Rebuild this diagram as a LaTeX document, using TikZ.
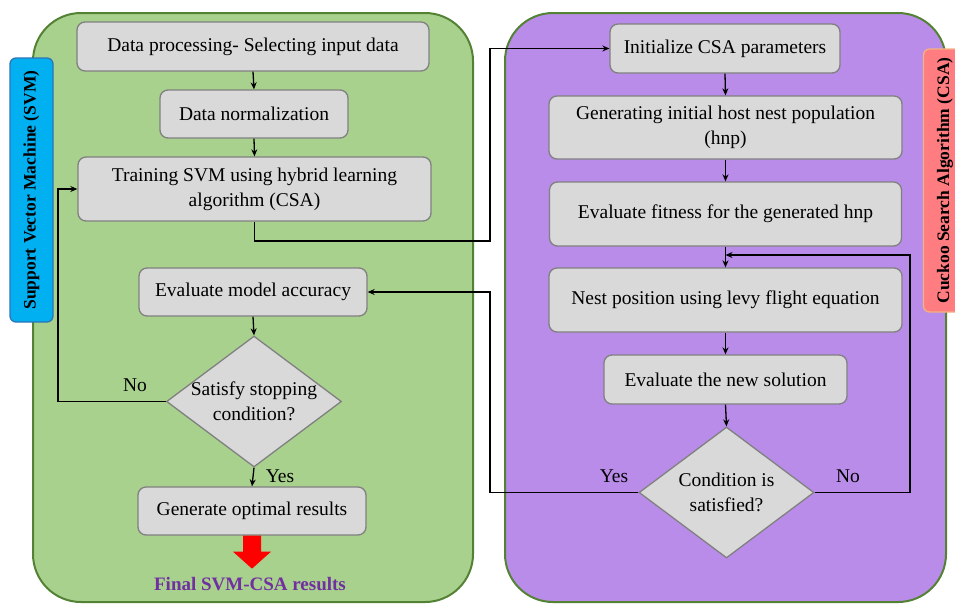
\documentclass[tikz,border=0pt]{standalone}
\usepackage{fontspec}
\setmainfont{Liberation Serif}
\usetikzlibrary{shapes.geometric,arrows.meta,calc}
\definecolor{panelgreen}{RGB}{169,209,142}
\definecolor{panelpurple}{RGB}{184,140,232}
\definecolor{panelline}{RGB}{84,130,53}
\definecolor{boxfill}{RGB}{217,217,217}
\definecolor{boxline}{RGB}{128,128,128}
\definecolor{svmblue}{RGB}{0,176,240}
\definecolor{svmline}{RGB}{46,117,182}
\definecolor{csapink}{RGB}{255,124,128}
\definecolor{csaline}{RGB}{244,177,131}
\definecolor{finalpurple}{RGB}{112,48,160}
\begin{document}
\begin{tikzpicture}[x=1pt,y=-1pt,
  box/.style={draw=boxline, fill=boxfill, line width=1.3pt, rounded corners=8pt, align=center, inner sep=0pt, font=\fontsize{19.5}{25}\selectfont},
  dia/.style={diamond, draw=boxline, fill=boxfill, line width=1.3pt, inner sep=0pt, minimum width=175pt, minimum height=131pt},
  diatext/.style={align=center, inner sep=0pt, font=\fontsize{19.5}{25}\selectfont},
  arr/.style={-{Stealth[length=7pt,width=6pt]}, line width=1.3pt},
  conn/.style={line width=1.3pt},
  yn/.style={inner sep=0pt, font=\fontsize{19.5}{24}\selectfont},
  sidelabel/.style={rotate=90, line width=1.3pt, rounded corners=6pt, inner sep=0pt, minimum height=43pt, font=\bfseries\fontsize{17.5}{20}\selectfont}]
\useasboundingbox (0,0) rectangle (955,603);
% panels
\draw[panelline, fill=panelgreen, line width=2pt, rounded corners=48pt] (33,13) rectangle (473,602);
\draw[panelline, fill=panelpurple, line width=2pt, rounded corners=48pt] (505,13) rectangle (946,602);
% side labels
\node[sidelabel, draw=svmline, fill=svmblue, minimum width=264pt] (svm) at (31.5,190) {Support Vector Machine (SVM)};
\node[sidelabel, draw=csaline, fill=csapink, minimum width=263pt] (csa) at (945,180.5) {Cuckoo Search Algorithm (CSA)};
% left column
\node[box, minimum width=352pt, minimum height=49pt] (b1) at (253,46.5) {Data processing- Selecting input data};
\node[box, minimum width=188pt, minimum height=48pt] (b2) at (254,114) {Data normalization};
\node[box, minimum width=353pt, minimum height=64pt] (b3) at (254.5,189) {Training SVM using hybrid learning\\algorithm (CSA)};
\node[box, minimum width=228pt, minimum height=48pt] (b4) at (253,292) {Evaluate model accuracy};
\node[dia] (d1) at (254,401.5) {};
\node[diatext] (d1t) at (d1) {Satisfy stopping\\condition?};
\node[box, minimum width=228pt, minimum height=48pt] (b5) at (252,511) {Generate optimal results};
% red arrow
\fill[red] ($(b5.south)+(-9,0)$) -- ++(0,16) -- ++(-10,0) -- ($(b5.south)+(0,33)$) coordinate (tip) -- ($(b5.south)+(19,16)$) -- ++(-10,0) -- ($(b5.south)+(9,0)$) -- cycle;
\node[font=\bfseries\fontsize{19}{22}\selectfont, text=finalpurple, inner sep=0pt] (final) at (250,584) {Final SVM-CSA results};
% right column
\node[box, minimum width=230pt, minimum height=49pt] (i1) at (725,48.5) {Initialize CSA parameters};
\node[box, minimum width=353pt, minimum height=63pt] (i2) at (725.5,127.5) {Generating initial host nest population\\(hnp)};
\node[box, minimum width=352pt, minimum height=64pt] (i3) at (725.5,214) {Evaluate fitness for the generated hnp};
\node[box, minimum width=353pt, minimum height=64pt] (i4) at (725.5,300) {Nest position using levy flight equation};
\node[box, minimum width=243pt, minimum height=49pt] (i5) at (725.5,379.5) {Evaluate the new solution};
\node[dia] (d2) at (726.5,492.5) {};
\node[diatext] (d2t) at (d2) {Condition is\\satisfied?};
% coordinates
\coordinate (c1) at (490,241);
\coordinate (c2) at (58,401.5);
\coordinate (c3) at (910,492.5);
\coordinate (c4) at (490,492.5);
\coordinate (j) at (725.5,255);
% connectors left
\draw[arr] (b1.south) -- (b2.north);
\draw[arr] (b2.south) -- (b3.north);
\draw[arr] (b4.south) -- (d1.north);
\draw[arr] (d1.south) -- (b5.north) node[yn, pos=0.45, right=12pt] (yes1) {Yes};
\draw[arr] (d1.west) -- (c2) |- (b3.west);
\node[yn] (no1) at (135,385) {No};
\draw[arr] (b3.south) |- (c1) |- (i1.west);
% connectors right
\draw[arr] (i1.south) -- (i2.north);
\draw[arr] (i2.south) -- (i3.north);
\draw[arr] (i3.south) -- (i4.north);
\draw[arr] (i4.south) -- (i5.north);
\draw[arr] (i5.south) -- (d2.north);
\draw[arr] (d2.east) -- (c3) |- (j);
\draw[arr] (d2.west) -- (c4) |- (b4.east);
\node[yn] (yes2) at (614,476) {Yes};
\node[yn] (no2) at (848,476) {No};
\end{tikzpicture}
\end{document}
